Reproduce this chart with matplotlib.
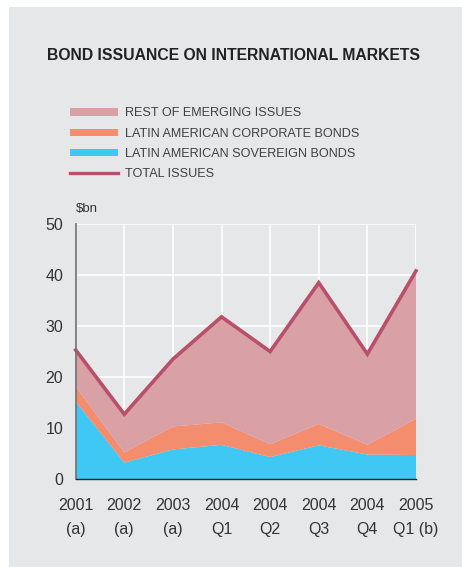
import numpy as np
import matplotlib.pyplot as plt
from matplotlib.patches import Patch, Rectangle
from matplotlib.lines import Line2D

plt.rcParams['font.family'] = ['Liberation Sans', 'DejaVu Sans']

periods = ['2001\n(a)', '2002\n(a)', '2003\n(a)', '2004\nQ1', '2004\nQ2',
           '2004\nQ3', '2004\nQ4', '2005\nQ1 (b)']
sovereign = [15.2, 3.2, 5.8, 6.7, 4.3, 6.6, 4.8, 4.7]
corporate = [2.9, 2.0, 4.5, 4.4, 2.5, 4.2, 1.9, 7.1]
rest_emerging = [7.2, 7.5, 13.2, 20.7, 18.2, 27.7, 17.8, 29.0]

total = np.array(sovereign) + np.array(corporate) + np.array(rest_emerging)
x = np.arange(len(periods))

c_rest = '#d9a0a6'
c_corp = '#f48c6e'
c_sov = '#40c8f4'
c_total = '#b8506a'
bg = '#e6e7e8'
txt = '#333333'

fig = plt.figure(figsize=(4.62, 5.67), dpi=100)
fig.patch.set_facecolor('white')
fig.patches.append(Rectangle((9 / 462, 0), 1, 1 - 7 / 567, transform=fig.transFigure,
                             facecolor=bg, edgecolor='none', zorder=-10))

ax = fig.add_axes([0.1638, 0.1552, 0.7366, 0.4497])
ax.set_facecolor(bg)
ax.stackplot(x, sovereign, corporate, rest_emerging,
             colors=[c_sov, c_corp, c_rest], linewidth=0, zorder=2)
ax.plot(x, total, color=c_total, lw=2.6, zorder=4, clip_on=False,
        solid_joinstyle='miter')

ax.set_xlim(0, 7)
ax.set_ylim(0, 50)
ax.set_yticks(range(0, 51, 10))
ax.set_xticks(x)
ax.set_xticklabels(periods, linespacing=1.7)
ax.grid(True, color='white', lw=1.2, zorder=1)
ax.set_axisbelow(True)
for s in ['top', 'right']:
    ax.spines[s].set_visible(False)
ax.spines['left'].set_color('#707070')
ax.spines['left'].set_linewidth(1.2)
ax.spines['bottom'].set_color('#222222')
ax.spines['bottom'].set_linewidth(1.0)
ax.spines['left'].set_zorder(5)
ax.spines['bottom'].set_zorder(5)
ax.tick_params(axis='both', length=0, labelsize=11.5, labelcolor=txt)
ax.tick_params(axis='x', pad=14)
ax.tick_params(axis='y', pad=9)

fig.text(76 / 462, 1 - 209 / 567, '$bn', fontsize=9.5, color=txt, va='center')
fig.text(47 / 462, 1 - 55 / 567, 'BOND ISSUANCE ON INTERNATIONAL MARKETS',
         fontsize=11.3, fontweight='bold', color='#222222', va='center')

handles = [Patch(facecolor=c_rest, edgecolor='none'),
           Patch(facecolor=c_corp, edgecolor='none'),
           Patch(facecolor=c_sov, edgecolor='none'),
           Line2D([], [], color=c_total, lw=2.4)]
labels = ['REST OF EMERGING ISSUES', 'LATIN AMERICAN CORPORATE BONDS',
          'LATIN AMERICAN SOVEREIGN BONDS', 'TOTAL ISSUES']
leg = fig.legend(handles, labels, loc='upper left',
                 bbox_to_anchor=(70 / 462, 1 - 107.5 / 567), frameon=False,
                 fontsize=9.1, handlelength=3.8, handleheight=0.5,
                 handletextpad=0.55, labelspacing=0.64, borderpad=0,
                 borderaxespad=0)
for t in leg.get_texts():
    t.set_color('#404040')

fig.savefig('out.png', dpi=100, facecolor=fig.get_facecolor())
